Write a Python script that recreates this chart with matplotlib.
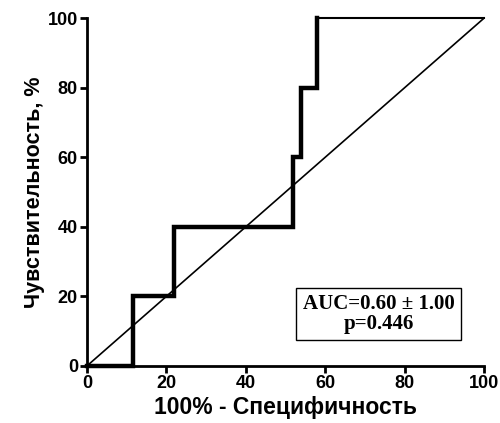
import matplotlib.pyplot as plt

# ROC curve step points
fpr = [0, 11.5, 11.5, 22, 22, 52, 52, 54, 54, 58, 58]
tpr = [0, 0, 20, 20, 40, 40, 60, 60, 80, 80, 100]
top_x = [58, 100]
top_y = [100, 100]
diag = [0, 100]
ticks = [0, 20, 40, 60, 80, 100]

fig = plt.figure(figsize=(5, 4.23), dpi=100)
ax = fig.add_axes([0.174, 0.135, 0.794, 0.822])

ax.plot(diag, diag, color='black', lw=1.2, solid_capstyle='butt')
ax.plot(fpr, tpr, color='black', lw=3.2, solid_joinstyle='miter', clip_on=False)
ax.plot(top_x, top_y, color='black', lw=1.5, clip_on=False)

ax.set_xlim(0, 100)
ax.set_ylim(0, 100)
ax.set_xticks(ticks)
ax.set_yticks(ticks)
for s in ['top', 'right']:
    ax.spines[s].set_visible(False)
for s in ['left', 'bottom']:
    ax.spines[s].set_linewidth(2)
ax.tick_params(width=2, length=5, labelsize=13, pad=1.5)
for lab in ax.get_xticklabels() + ax.get_yticklabels():
    lab.set_fontweight('bold')
    lab.set_family('Liberation Sans')

ax.set_xlabel('100% - Специфичность', fontsize=16.5, fontweight='bold',
              family='Liberation Sans', labelpad=3)
ax.set_ylabel('Чувствительность, %', fontsize=15.5, fontweight='bold',
              family='Liberation Sans', labelpad=2)

ax.text(73.4, 14.9, 'AUC=0.60 ± 1.00\np=0.446', ha='center', va='center',
        fontsize=15, fontweight='bold', family='Liberation Serif',
        linespacing=1.0,
        bbox=dict(boxstyle='square,pad=0.3', fc='white', ec='black', lw=1))

fig.savefig('out.png', dpi=100)
